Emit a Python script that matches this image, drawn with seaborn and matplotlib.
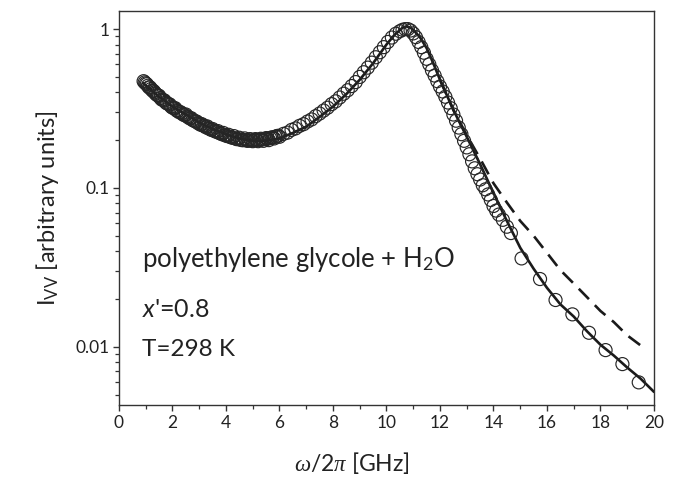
import numpy as np
import pandas as pd
import matplotlib
matplotlib.use("Agg")
import matplotlib.pyplot as plt
from matplotlib.ticker import LogLocator, MultipleLocator, FixedLocator, FixedFormatter, NullFormatter
import seaborn as sns

# ---- data ----
circ_x = [0.92, 1.0, 1.08, 1.16, 1.25, 1.33, 1.42, 1.5, 1.6, 1.7, 1.8, 1.9, 2.0, 2.1, 2.2, 2.3, 2.4,
          2.5, 2.6, 2.7, 2.8, 2.9, 3.0, 3.1, 3.2, 3.3, 3.4, 3.5, 3.6, 3.7, 3.8, 3.9, 4.0, 4.1, 4.2,
          4.3, 4.4, 4.5, 4.6, 4.7, 4.8, 4.9, 5.0, 5.1, 5.2, 5.3, 5.4, 5.5, 5.6, 5.7, 5.8, 5.9, 6.0,
          6.15, 6.3, 6.45, 6.6, 6.75, 6.9, 7.05, 7.2, 7.35, 7.5, 7.65, 7.8, 7.95, 8.1, 8.25, 8.4,
          8.55, 8.7, 8.85, 9.0, 9.15, 9.3, 9.45, 9.6, 9.75, 9.9, 10.05, 10.2, 10.35, 10.5, 10.6,
          10.7, 10.8, 10.9, 11.0, 11.1, 11.2, 11.3, 11.4, 11.5, 11.6, 11.7, 11.8, 11.9, 12.0, 12.1,
          12.2, 12.3, 12.4, 12.5, 12.6, 12.7, 12.8, 12.9, 13.0, 13.1, 13.2, 13.3, 13.4, 13.5, 13.6,
          13.7, 13.8, 13.9, 14.0, 14.1, 14.2, 14.35, 14.5, 14.65, 15.05, 15.74, 16.32, 16.95,
          17.57, 18.19, 18.82, 19.43]
circ_y = [0.47, 0.455, 0.44, 0.43, 0.41, 0.40, 0.385, 0.38, 0.36, 0.355, 0.34, 0.335, 0.32, 0.318,
          0.305, 0.30, 0.29, 0.29, 0.278, 0.275, 0.265, 0.262, 0.255, 0.252, 0.245, 0.244, 0.236,
          0.235, 0.228, 0.228, 0.22, 0.222, 0.214, 0.216, 0.208, 0.212, 0.203, 0.207, 0.2, 0.205,
          0.198, 0.203, 0.197, 0.203, 0.197, 0.204, 0.198, 0.206, 0.2, 0.208, 0.205, 0.212, 0.21,
          0.219, 0.223, 0.232, 0.237, 0.246, 0.252, 0.262, 0.27, 0.283, 0.294, 0.307, 0.32, 0.337,
          0.351, 0.371, 0.392, 0.412, 0.438, 0.464, 0.50, 0.535, 0.572, 0.615, 0.665, 0.715, 0.77,
          0.83, 0.885, 0.935, 0.97, 0.99, 1.0, 1.0, 0.98, 0.94, 0.89, 0.83, 0.77, 0.71, 0.65, 0.60,
          0.55, 0.51, 0.47, 0.435, 0.405, 0.375, 0.345, 0.318, 0.29, 0.265, 0.24, 0.218, 0.198,
          0.18, 0.163, 0.147, 0.133, 0.122, 0.113, 0.104, 0.098, 0.091, 0.084, 0.077, 0.072,
          0.068, 0.063, 0.057, 0.052, 0.036, 0.0267, 0.0197, 0.016, 0.01225, 0.00953, 0.00778,
          0.00597]

# extra, densely spaced circles in the low-frequency range
circ2_x = [0.96, 1.04, 1.12, 1.2, 1.29, 1.37, 1.46, 1.55, 1.65, 1.75, 1.85, 1.95, 2.05, 2.15,
           2.25, 2.35, 2.45, 2.55, 2.65, 2.75, 2.85, 2.95, 3.05, 3.15, 3.25, 3.35, 3.45, 3.55,
           3.65, 3.75, 3.85, 3.95, 4.05, 4.15, 4.25, 4.35, 4.45, 4.55, 4.65, 4.75, 4.85, 4.95,
           5.05, 5.15, 5.25, 5.35, 5.45, 5.55, 5.65, 5.75, 5.85, 5.95]
circ2_y = [0.462, 0.45, 0.43, 0.42, 0.408, 0.392, 0.382, 0.368, 0.358, 0.345, 0.338, 0.325,
           0.318, 0.308, 0.30, 0.295, 0.287, 0.282, 0.274, 0.268, 0.263, 0.256, 0.25, 0.247,
           0.241, 0.237, 0.232, 0.229, 0.225, 0.222, 0.218, 0.215, 0.212, 0.21, 0.207, 0.205,
           0.203, 0.201, 0.2, 0.2, 0.199, 0.199, 0.2, 0.2, 0.201, 0.202, 0.203, 0.204, 0.206,
           0.208, 0.21, 0.213]

fit_x = [0.9, 1.5, 2.0, 2.5, 3.0, 3.5, 4.0, 4.5, 5.0, 5.5, 6.0, 6.5, 7.0, 7.5, 8.0, 8.5, 9.0, 9.5,
         10.0, 10.3, 10.5, 10.6, 10.75, 10.9, 11.0, 11.25, 11.5, 11.75, 12.0, 12.5, 13.0, 13.5,
         14.0, 14.5, 15.0, 15.5, 16.0, 16.5, 17.0, 17.5, 18.0, 18.5, 19.0, 19.5, 20.0]
fit_y = [0.457, 0.375, 0.325, 0.29, 0.258, 0.235, 0.218, 0.205, 0.198, 0.198, 0.205, 0.222, 0.243,
         0.28, 0.325, 0.39, 0.48, 0.61, 0.80, 0.92, 0.985, 1.02, 1.04, 1.02, 0.99, 0.89, 0.76,
         0.61, 0.48, 0.31, 0.21, 0.141, 0.093, 0.062, 0.042, 0.031, 0.0235, 0.0185, 0.0155,
         0.0125, 0.0103, 0.0088, 0.0074, 0.0063, 0.0052]

dash_x = [12.0, 12.5, 13.0, 13.5, 14.0, 14.5, 15.0, 15.5, 16.0, 16.5, 17.0, 17.5, 18.0, 18.5,
          19.0, 19.5]
dash_y = [0.48, 0.31, 0.215, 0.153, 0.107, 0.081, 0.062, 0.050, 0.039, 0.0304, 0.025, 0.0205,
          0.0168, 0.0143, 0.0118, 0.0102]

x_ticks = [0, 2, 4, 6, 8, 10, 12, 14, 16, 18, 20]
y_ticks = [0.01, 0.1, 1]
y_tick_labels = ["0.01", "0.1", "1"]

# ---- style ----
sns.set_theme(style="ticks")
plt.rcParams["font.family"] = ["Lato", "DejaVu Sans"]
plt.rcParams["mathtext.fontset"] = "custom"
plt.rcParams["mathtext.rm"] = "Lato"
plt.rcParams["mathtext.it"] = "Liberation Serif:italic"
plt.rcParams["mathtext.sf"] = "Lato:italic"

ink = "#1a1a1a"
spine_c = "#333333"
txt_c = "#222222"

fig = plt.figure(figsize=(6.93, 4.83), dpi=100)
ax = fig.add_axes([0.1717, 0.1615, 0.772, 0.8157])

df_c = pd.DataFrame({"x": circ_x + circ2_x, "y": circ_y + circ2_y})
df_f = pd.DataFrame({"x": fit_x, "y": fit_y})
df_d = pd.DataFrame({"x": dash_x, "y": dash_y})

sns.lineplot(data=df_f, x="x", y="y", ax=ax, color=ink, lw=1.9, sort=False, estimator=None, zorder=3)
sns.lineplot(data=df_d, x="x", y="y", ax=ax, color=ink, lw=1.9, sort=False, estimator=None,
             linestyle=(0, (5.5, 3.2)), zorder=3)
sns.scatterplot(data=df_c, x="x", y="y", ax=ax, marker="o", s=88, facecolor="none",
                edgecolor="#262626", linewidth=0.85, zorder=4)

ax.set_yscale("log")
ax.set_xlim(0, 20)
ax.set_ylim(0.0043, 1.30)

ax.xaxis.set_major_locator(FixedLocator(x_ticks))
ax.xaxis.set_minor_locator(MultipleLocator(1))
ax.yaxis.set_major_locator(FixedLocator(y_ticks))
ax.yaxis.set_major_formatter(FixedFormatter(y_tick_labels))
ax.yaxis.set_minor_locator(LogLocator(base=10, subs=np.arange(2, 10)))
ax.yaxis.set_minor_formatter(NullFormatter())

for s in ax.spines.values():
    s.set_visible(True)
    s.set_color(spine_c)
    s.set_linewidth(1.0)

ax.tick_params(which="major", direction="out", length=4.5, width=1.0, color=spine_c,
               labelsize=12.5, labelcolor=txt_c, pad=2.5)
ax.tick_params(which="minor", direction="out", length=2.8, width=0.9, color=spine_c)
ax.tick_params(axis="x", which="both", top=False)
ax.tick_params(axis="y", which="both", right=False)

ax.set_xlabel(r"$\mathit{\omega/2\pi}$ [GHz]", fontsize=16.5, color=txt_c, labelpad=14, x=0.436)
ax.set_ylabel(r"I$_{\mathrm{VV}}$ [arbitrary units]", fontsize=17, color=txt_c, labelpad=10)

ax.text(0.043, 0.350, r"polyethylene glycole + H$_{\mathrm{2}}$O", transform=ax.transAxes,
        fontsize=18.5, color=txt_c, va="baseline", ha="left")
ax.text(0.043, 0.224, r"$\mathsf{x}$'=0.8", transform=ax.transAxes,
        fontsize=18, color=txt_c, va="baseline", ha="left")
ax.text(0.043, 0.124, "T=298 K", transform=ax.transAxes,
        fontsize=17.5, color=txt_c, va="baseline", ha="left")

fig.savefig("out.png", dpi=100)
